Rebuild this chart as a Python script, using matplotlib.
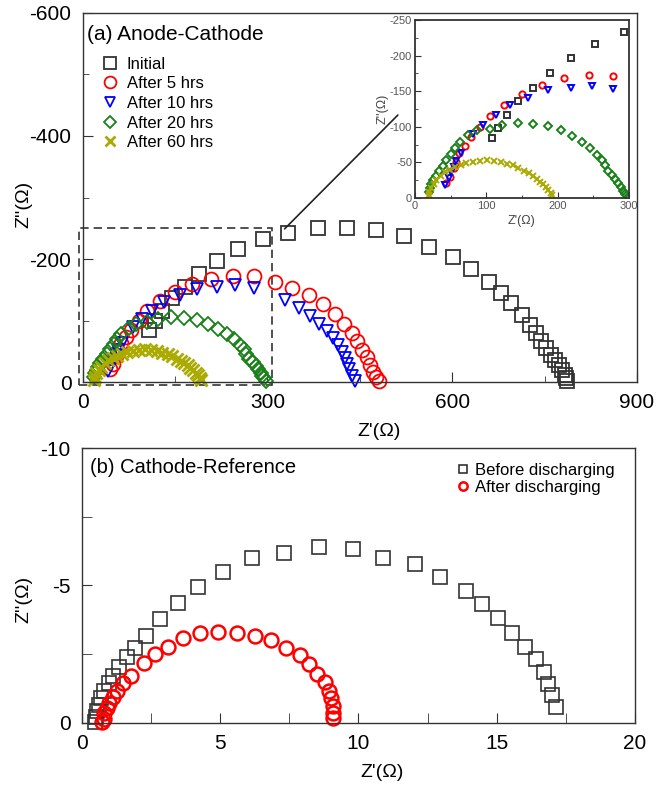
import numpy as np
import matplotlib.pyplot as plt
from matplotlib.patches import Rectangle, ConnectionPatch
from matplotlib.ticker import MultipleLocator

plt.rcParams['font.family'] = ['Liberation Sans', 'DejaVu Sans']
plt.rcParams['axes.unicode_minus'] = False

# (a) Anode-Cathode, Z' and Z'' in ohm
init_x = [108, 117, 129, 145, 166, 189, 218, 253, 293, 334, 382, 430, 477, 522, 563, 601,
          631, 659, 679, 696, 713, 726, 736, 745, 753, 760, 767, 774, 779, 783, 785, 786]
init_y = [-84, -99, -116, -136, -155, -176, -197, -217, -233, -242, -250, -251, -247, -237, -220, -203,
          -184, -163, -145, -128, -109, -93, -79, -66, -55, -44, -36, -28, -20, -11, -6, -1]

h5_x = [44, 49, 54, 58, 62, 70, 79, 91, 105, 125, 150, 178, 209, 244, 278, 312, 340, 368,
        390, 410, 424, 437, 446, 454, 461, 466, 472, 477, 482]
h5_y = [-21, -30, -42, -51, -63, -73, -85, -100, -115, -131, -146, -159, -168, -173, -172, -163, -153, -141,
        -127, -111, -95, -80, -66, -52, -40, -28, -17, -9, -1]

h10_x = [42, 47, 51, 55, 58, 64, 82, 96, 113, 133, 158, 186, 218, 248, 278, 328, 352, 369,
         384, 397, 407, 415, 422, 426, 429, 433, 438, 443]
h10_y = [-18, -28, -36, -44, -52, -63, -90, -103, -116, -130, -141, -151, -155, -157, -153, -133, -121, -107,
         -94, -83, -71, -60, -49, -39, -30, -21, -10, -1]

h20_x = [19, 21, 23, 25, 29, 34, 39, 44, 51, 56, 63, 75, 87, 105, 122, 144, 165, 186, 204, 220,
         234, 246, 255, 262, 266, 271, 276, 281, 285, 289, 292, 295, 298]
h20_y = [-8, -14, -20, -25, -31, -38, -45, -53, -62, -70, -78, -88, -95, -97, -102, -105, -104, -101, -95, -87,
         -78, -70, -61, -54, -46, -38, -32, -26, -21, -15, -10, -6, -2]

h60_x = [19, 20, 22, 26, 30, 36, 42, 49, 56, 64, 72, 82, 91, 101, 111, 121, 129, 138, 145,
         153, 160, 165, 171, 175, 180, 184, 187, 190, 192]
h60_y = [-4, -9, -14, -20, -25, -31, -36, -39, -43, -46, -49, -51, -52, -53, -52, -51, -48, -46, -42,
         -38, -35, -31, -27, -23, -19, -15, -11, -7, -4]

# (b) Cathode-Reference
before_x = [0.47, 0.50, 0.53, 0.62, 0.70, 0.81, 0.96, 1.11, 1.33, 1.62, 1.90, 2.30, 2.82, 3.46, 4.21, 5.11, 6.16,
            7.32, 8.56, 9.79, 10.87, 12.04, 12.94, 13.87, 14.45, 15.05, 15.54, 16.02, 16.42, 16.72, 16.84, 16.98, 17.14]
before_y = [-0.04, -0.22, -0.44, -0.65, -0.89, -1.17, -1.44, -1.70, -2.02, -2.38, -2.73, -3.17, -3.78, -4.37, -4.95,
            -5.50, -5.99, -6.17, -6.39, -6.32, -6.01, -5.78, -5.30, -4.80, -4.31, -3.80, -3.26, -2.77, -2.31, -1.86,
            -1.40, -1.01, -0.58]
after_x = [0.74, 0.79, 0.80, 0.89, 0.99, 1.11, 1.25, 1.47, 1.76, 2.24, 2.63, 3.12, 3.66, 4.27, 4.93, 5.59, 6.25,
           6.85, 7.38, 7.88, 8.22, 8.51, 8.79, 8.94, 8.99, 9.09, 9.09, 9.09]
after_y = [-0.02, -0.13, -0.34, -0.53, -0.71, -0.93, -1.17, -1.44, -1.70, -2.19, -2.50, -2.77, -3.07, -3.26, -3.32,
           -3.28, -3.16, -3.01, -2.73, -2.46, -2.14, -1.77, -1.49, -1.17, -0.89, -0.61, -0.36, -0.16]

series_a = [
    (init_x, init_y, 's', '#333333', 'Initial'),
    (h5_x, h5_y, 'o', '#ff0000', 'After 5 hrs'),
    (h10_x, h10_y, 'v', '#0000ff', 'After 10 hrs'),
    (h20_x, h20_y, 'D', '#1a801a', 'After 20 hrs'),
    (h60_x, h60_y, 'x', '#aaaa00', 'After 60 hrs'),
]
msize = {'s': 10, 'o': 10, 'v': 9, 'D': 7.5, 'x': 9}


def style_axes(axe, size, lw=1.0):
    for sp in axe.spines.values():
        sp.set_linewidth(lw)
        sp.set_color('#333333')
    axe.tick_params(which='both', direction='in', top=False, right=False, labelsize=size, colors='#333333')
    axe.tick_params(labelcolor='black')


fig = plt.figure(figsize=(6.59, 7.91), dpi=100)

# ---- panel (a)
ax1 = fig.add_axes([0.1252, 0.517, 0.8414, 0.4666])
for x, y, m, c, lab in series_a:
    mew = 2.0 if m == 'x' else 1.3
    ax1.plot(x, y, m, ms=msize[m], mfc='none', mec=c, mew=mew, color=c, label=lab, clip_on=False)
ax1.set_xlim(0, 900)
ax1.set_ylim(0, -600)
ax1.xaxis.set_major_locator(MultipleLocator(300))
ax1.xaxis.set_minor_locator(MultipleLocator(150))
ax1.yaxis.set_major_locator(MultipleLocator(200))
ax1.yaxis.set_minor_locator(MultipleLocator(100))
style_axes(ax1, 15)
ax1.tick_params(which='major', length=7, pad=8)
ax1.tick_params(which='minor', length=4)
ax1.set_xlabel("Z'(\u03a9)", fontsize=14)
ax1.xaxis.set_label_coords(0.535, -0.11)
ax1.set_ylabel("Z''(\u03a9)", fontsize=14)
ax1.yaxis.set_label_coords(-0.09, 0.48)
ax1.text(0.008, 0.943, '(a) Anode-Cathode', transform=ax1.transAxes, fontsize=15, va='center', ha='left')
ax1.legend(loc='upper left', bbox_to_anchor=(0.02, 0.9), frameon=False, fontsize=12,
           handletextpad=0.4, labelspacing=0.28, borderaxespad=0, handlelength=1.2, markerscale=0.85)

# zoom box and connector
ax1.add_patch(Rectangle((-5, 5), 313, -255, fill=False, ls=(0, (5, 3)), lw=1.2, ec='#333333', clip_on=False))

# ---- inset
ins = fig.add_axes([0.6297, 0.7497, 0.3248, 0.225])
for x, y, m, c, lab in series_a:
    ms = 4.5 if m != 'x' else 5
    ins.plot(x, y, m, ms=ms, mfc='none', mec=c, mew=1.4, color=c)
ins.set_xlim(0, 300)
ins.set_ylim(0, -250)
ins.xaxis.set_major_locator(MultipleLocator(100))
ins.xaxis.set_minor_locator(MultipleLocator(50))
ins.yaxis.set_major_locator(MultipleLocator(50))
ins.yaxis.set_minor_locator(MultipleLocator(25))
style_axes(ins, 8, lw=1.3)
ins.tick_params(which='major', length=4, pad=2, labelcolor='#555555')
ins.tick_params(which='minor', length=2)
ins.set_xlabel("Z'(\u03a9)", fontsize=9, color='#444444', labelpad=3)
ins.set_ylabel("Z''(\u03a9)", fontsize=9, color='#444444', labelpad=1)

con = ConnectionPatch(xyA=(328, -249), coordsA=ax1.transData, xyB=(-0.08, 0.466), coordsB=ins.transAxes,
                      color='#222222', lw=1.2)
fig.add_artist(con)

# ---- panel (b)
ax2 = fig.add_axes([0.1244, 0.0863, 0.8392, 0.347])
ax2.plot(before_x, before_y, 's', ms=10, mfc='none', mec='#333333', mew=1.2, label='Before discharging',
         clip_on=False)
ax2.plot(after_x, after_y, 'o', ms=10, mfc='none', mec='#ff0000', mew=1.8, label='After discharging',
         clip_on=False)
ax2.set_xlim(0, 20)
ax2.set_ylim(0, -10)
ax2.xaxis.set_major_locator(MultipleLocator(5))
ax2.xaxis.set_minor_locator(MultipleLocator(2.5))
ax2.yaxis.set_major_locator(MultipleLocator(5))
ax2.yaxis.set_minor_locator(MultipleLocator(2.5))
style_axes(ax2, 15)
ax2.tick_params(which='both', length=7, pad=8)
ax2.set_xlabel("Z'(\u03a9)", fontsize=14)
ax2.xaxis.set_label_coords(0.543, -0.15)
ax2.set_ylabel("Z''(\u03a9)", fontsize=14)
ax2.yaxis.set_label_coords(-0.09, 0.45)
ax2.text(0.015, 0.93, '(b) Cathode-Reference', transform=ax2.transAxes, fontsize=14.5, va='center', ha='left')
ax2.legend(loc='upper right', bbox_to_anchor=(0.975, 0.97), frameon=False, fontsize=12,
           handletextpad=0.3, labelspacing=0.1, borderaxespad=0, handlelength=0.8, markerscale=0.6)

fig.savefig('out.png', dpi=100)
